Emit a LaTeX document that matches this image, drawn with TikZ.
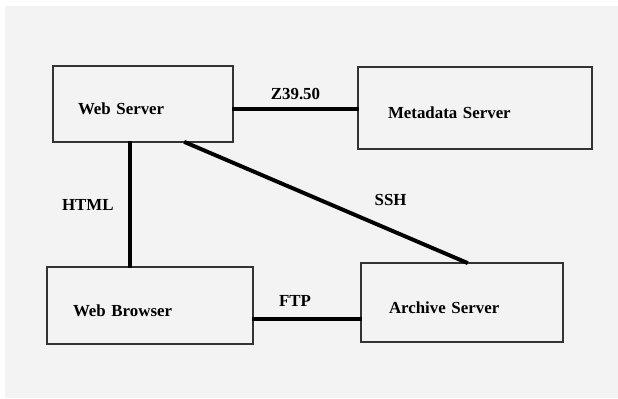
\documentclass[tikz,border=0pt]{standalone}
\usepackage{fontspec}
\setmainfont{Liberation Serif}
\usetikzlibrary{positioning}
\definecolor{paper}{HTML}{F3F3F3}
\begin{document}
\begin{tikzpicture}[
    server/.style={draw=black!80, line width=0.9pt, align=left, text height=0.55cm, font=\bfseries\fontsize{12}{14}\selectfont},
    link/.style={line width=2.4pt, line cap=rect},
    tag/.style={font=\bfseries\fontsize{12}{14}\selectfont}
  ]
  \fill[white] (0,0) rectangle (15.45,9.95);
  \fill[paper] (0.125,0) rectangle (15.45,9.8);
  \useasboundingbox (0,0) rectangle (15.45,9.95);
  % Servers
  \node[server, text width=3.25cm, inner xsep=0.625cm, minimum height=1.9cm] (web) at (3.575,7.35) {Web Server};
  \node[server, text width=4.35cm, inner xsep=0.75cm, minimum height=2.05cm] (meta) at (11.875,7.25) {Metadata Server};
  % Clients and archive
  \node[server, text width=3.85cm, inner xsep=0.65cm, minimum height=1.925cm] (browser) at (3.75,2.3125) {Web Browser};
  \node[server, text width=3.65cm, inner xsep=0.7cm, minimum height=1.975cm] (archive) at (11.55,2.3875) {Archive Server};
  % Links
  \draw[link] ([yshift=-1.25mm]web.east) -- ([yshift=-1.25mm]web.east -| meta.west)
    node[tag, midway, above=0.8mm] {Z39.50};
  \draw[link] ([xshift=-3.25mm]web.south) -- ([xshift=-3.25mm]web.south |- browser.north)
    node[tag, midway, left=2.5mm] {HTML};
  \draw[link, line width=2.8pt] ([xshift=10.75mm]web.south) -- ([xshift=1mm]archive.north)
    node[tag, pos=0.63, above right=2mm] {SSH};
  \draw[link] ([yshift=-3.4mm]browser.east) -- ([yshift=-3.4mm]browser.east -| archive.west)
    node[tag, midway, above=1.5mm, xshift=-3mm] {FTP};
\end{tikzpicture}
\end{document}
